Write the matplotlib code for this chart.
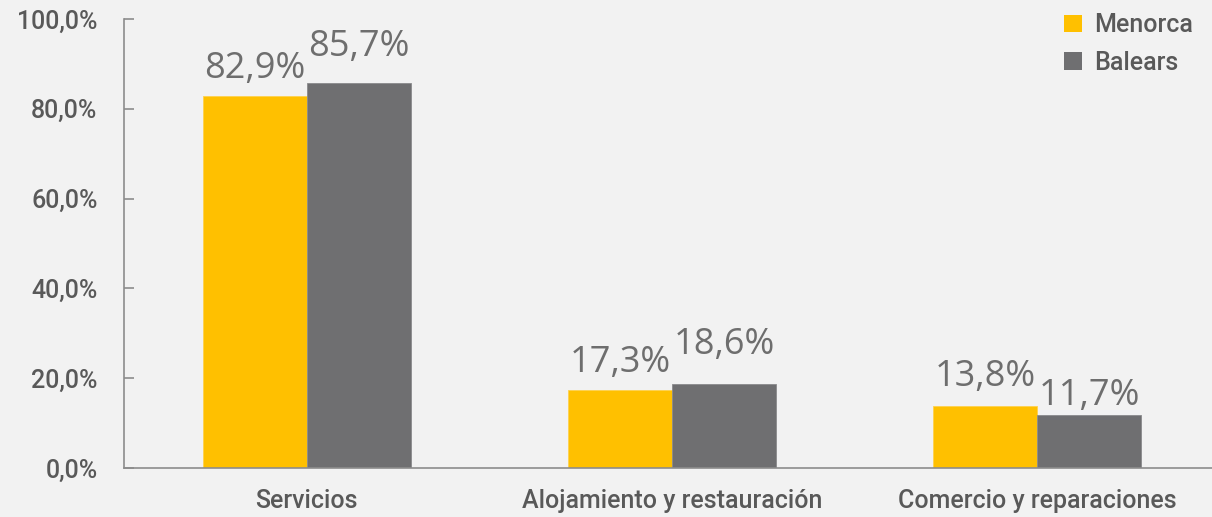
import matplotlib
matplotlib.use("Agg")
import matplotlib.pyplot as plt
import numpy as np
from matplotlib.patches import Patch

categories = ["Servicios", "Alojamiento y restauración", "Comercio y reparaciones"]
menorca = [82.9, 17.3, 13.8]
balears = [85.7, 18.6, 11.7]
series_names = ["Menorca", "Balears"]
y_ticks = [0, 20, 40, 60, 80, 100]

# gap (px) between bar top and its value label, as placed in the original
menorca_gap = [13, 13, 15]
balears_gap = [22, 25, 5]

bg = "#F2F2F2"
yellow = "#FFC000"
grey = "#6F6F71"
text_col = "#595959"
label_col = "#6E6E6E"

plt.rcParams["font.family"] = ["Open Sans", "DejaVu Sans"]
tick_font = dict(family=["Roboto", "DejaVu Sans"], weight="medium", size=18)

fig = plt.figure(figsize=(12.12, 5.17), dpi=100, facecolor=bg)
ax = fig.add_axes([124 / 1212, (517 - 468) / 517, 1096 / 1212, 449 / 517])
ax.set_facecolor(bg)

x = np.arange(len(categories))
w = 0.285
b1 = ax.bar(x - w / 2, menorca, w, color=yellow, edgecolor="#FFD24D", linewidth=0.6)
b2 = ax.bar(x + w / 2, balears, w, color=grey, edgecolor="#8A8A8C", linewidth=0.6)

for bars, vals, gaps in ((b1, menorca, menorca_gap), (b2, balears, balears_gap)):
    for rect, v, g in zip(bars, vals, gaps):
        ax.annotate(f"{v:.1f}%".replace(".", ","),
                    (rect.get_x() + rect.get_width() / 2, v),
                    xytext=(0, (g - 4) * 0.72), textcoords="offset points",
                    ha="center", va="bottom", fontsize=26, color=label_col)

ax.set_xlim(-0.5, 2.5)
ax.set_ylim(0, 100)
ax.set_yticks(y_ticks)
ax.set_yticklabels([f"{t:.1f}%".replace(".", ",") for t in y_ticks],
                   color=text_col, fontdict=tick_font)
ax.set_xticks(x)
ax.set_xticklabels(categories, color=text_col, fontdict=tick_font)
ax.tick_params(axis="y", direction="in", length=7, width=1.2, color="#8C8C8C", pad=19)
ax.tick_params(axis="x", length=0, pad=15)

for s in ("top", "right"):
    ax.spines[s].set_visible(False)
for s in ("left", "bottom"):
    ax.spines[s].set_color("#8C8C8C")
    ax.spines[s].set_linewidth(1.2)

handles = [Patch(facecolor=yellow), Patch(facecolor=grey)]
fig.legend(handles, series_names, loc="upper right", bbox_to_anchor=(1.003, 1.018),
           frameon=False, prop=tick_font, labelcolor=text_col,
           handlelength=0.7, handleheight=0.7, handletextpad=0.5, labelspacing=0.55)

fig.savefig("out.png", dpi=100, facecolor=bg)
